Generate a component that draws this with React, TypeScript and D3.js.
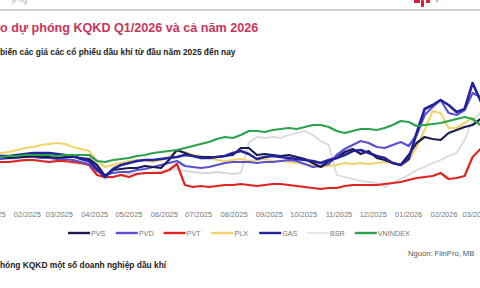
import React from "react";
import * as d3 from "d3";

const dates = [
  "2025-01-02","2025-01-09","2025-01-16","2025-01-23","2025-01-30",
  "2025-02-06","2025-02-13","2025-02-20","2025-02-27",
  "2025-03-06","2025-03-13","2025-03-20","2025-03-27",
  "2025-04-03","2025-04-10","2025-04-17","2025-04-24",
  "2025-05-01","2025-05-08","2025-05-15","2025-05-22","2025-05-29",
  "2025-06-05","2025-06-12","2025-06-19","2025-06-26",
  "2025-07-03","2025-07-10","2025-07-17","2025-07-24","2025-07-31",
  "2025-08-07","2025-08-14","2025-08-21","2025-08-28",
  "2025-09-04","2025-09-11","2025-09-18","2025-09-25",
  "2025-10-02","2025-10-09","2025-10-16","2025-10-23","2025-10-30",
  "2025-11-06","2025-11-13","2025-11-20","2025-11-27",
  "2025-12-04","2025-12-11","2025-12-18","2025-12-25",
  "2026-01-01","2026-01-08","2026-01-15","2026-01-22","2026-01-29",
  "2026-02-05","2026-02-12","2026-02-19","2026-02-26",
  "2026-03-05",
];

const PVS = [
  -2,-2,-3,-2,-2,-1,-2,-2,-3,-2,
  -2,-3,-4,-10,-21,-15,-14,-13,-13,-11,
  -12,-13,-5,5,2,-1,-2,-2,-2,-1,
  0,7,7,0,1,0,-1,0,-2,-4,
  -8,-12,-6,-3,3,6,1,4,-3,-5,
  -8,-10,0,12,18,16,15,22,25,28,
  30,36,
];
const PVD = [
  -4,-4,-3,-3,-2,-2,-3,-3,-4,-4,
  -5,-7,-9,-16,-20,-18,-17,-17,-15,-14,
  -12,-10,-8,-6,-11,-12,-13,-12,-10,-8,
  -7,-7,-7,-8,-7,-7,-6,-5,-6,-9,
  -12,-11,-9,0,6,10,14,12,8,7,
  10,13,9,20,40,48,55,42,40,45,
  62,58,
];
const PVT = [
  -7,-7,-7,-6,-5,-5,-6,-7,-6,-6,
  -7,-8,-10,-20,-22,-22,-20,-22,-19,-18,
  -18,-18,-15,-9,-30,-32,-31,-32,-31,-30,
  -30,-29,-30,-31,-30,-29,-29,-30,-31,-32,
  -33,-34,-33,-33,-31,-30,-30,-30,-30,-29,
  -28,-27,-25,-23,-22,-21,-18,-24,-23,-21,
  -2,6,
];
const PLX = [
  1,2,3,5,7,8,10,11,12,11,
  8,6,4,-6,-12,-10,-8,-6,-5,-5,
  -7,-5,-2,4,3,0,-1,-3,-5,-6,
  -5,-4,-6,-5,-4,-6,-6,-7,-8,-9,
  -10,-12,-11,-10,-8,-9,-8,-9,-8,-7,
  -8,-10,-6,8,25,44,42,27,27,32,
  37,30,
];
const GAS = [
  -1,-1,-1,0,1,2,2,2,1,0,
  -1,-4,-6,-14,-22,-14,-10,-8,-6,-5,
  -5,-4,-3,-2,0,-1,-3,-3,-2,-1,
  2,4,1,-4,-2,-1,-2,-3,-4,-5,
  -6,-8,-5,-3,0,4,5,2,-1,-3,
  -8,-10,-4,22,46,50,55,50,43,46,
  72,54,
];
const BSR = [
  -1,-3,-4,-5,-6,-5,-6,-7,-6,-7,
  -8,-9,-10,-20,-24,-22,-20,-19,-18,-19,
  -17,-16,-15,-14,-16,-17,-18,-18,-17,-18,
  -19,-18,12,18,17,18,17,20,22,24,
  20,14,10,-20,-22,-24,-26,-27,-28,-32,
  -28,-24,-20,-15,-12,-8,-5,-1,2,15,
  35,42,
];
const VNINDEX = [
  -2,-2,-1,-1,0,0,0,0,-1,0,
  0,0,0,-6,-7,-5,-4,-3,-1,0,
  2,3,4,5,7,9,11,13,16,18,
  17,20,24,24,23,25,26,27,26,28,
  30,30,28,24,22,24,26,26,25,27,
  30,34,33,29,30,31,32,34,36,38,
  36,30,
];

const seriesNames = ["PVS", "PVD", "PVT", "PLX", "GAS", "BSR", "VNINDEX"];
const seriesValues = [PVS, PVD, PVT, PLX, GAS, BSR, VNINDEX];
const seriesColors = ["#1b1b52", "#5a50d4", "#e0231f", "#f3d46c", "#23239c", "#d8d8e2", "#2ca24c"];
const seriesWidths = [2.2, 2.2, 2.2, 2.2, 2.6, 1.8, 2.2];
const drawOrder = [5, 3, 2, 1, 0, 4, 6];

const titleText = "o dự phóng KQKD Q1/2026 và cả năm 2026";
const subtitleText = "biến các giá các cổ phiếu dầu khí từ đầu năm 2025 đến nay";
const sourceText = "Nguồn: FiinPro, MB";
const footerText = "hóng KQKD một số doanh nghiệp dầu khí";

const W = 480;
const H = 288;
const FONT = "'Liberation Sans', Arial, sans-serif";

export default function App() {
  const parse = d3.timeParse("%Y-%m-%d");
  const xDates = dates.map((d) => parse(d) as Date);
  const x = d3
    .scaleTime()
    .domain([new Date(2025, 0, 1), new Date(2026, 2, 1)])
    .range([-8, 476]);
  const y = d3.scaleLinear().domain([-40, 80]).range([195, 75]);
  const ticks = x.ticks(d3.timeMonth.every(1) as any);
  const fmt = d3.timeFormat("%m/%Y");

  const line = (vals: number[]) =>
    d3
      .line<number>()
      .x((_, i) => x(xDates[i]))
      .y((v) => y(v))
      .curve(d3.curveLinear)(vals) || "";

  return (
    <svg
      width={W}
      height={H}
      viewBox={`0 0 ${W} ${H}`}
      style={{ position: "fixed", left: 0, top: 0, background: "#fff" }}
      fontFamily={FONT}
    >
      <rect x={0} y={0} width={W} height={H} fill="#fff" />
      <line x1={0} x2={W} y1={10} y2={10} stroke="#b9bfcc" strokeWidth={1.5} />
      <text x={12} y={2} fontSize={8} fill="#aaa">p           ng</text>
      <g fill="#d8203a">
        <rect x={414} y={0} width={6} height={3} />
        <rect x={421} y={0} width={3} height={7} rx={1} />
        <rect x={426} y={0} width={4} height={3} />
        <rect x={436} y={0} width={2} height={2} fill="#e8a0a8" />
      </g>

      <text x={0} y={32} fontSize={12.6} fontWeight="bold" fill="#c9355b">
        {titleText}
      </text>
      <text x={0} y={55} fontSize={8.4} fontWeight="bold" fill="#222">
        {subtitleText}
      </text>

      <g fill="none" strokeLinejoin="round" strokeLinecap="round">
        {drawOrder.map((k) => (
          <path
            key={seriesNames[k]}
            d={line(seriesValues[k])}
            stroke={seriesColors[k]}
            strokeWidth={seriesWidths[k]}
          />
        ))}
      </g>

      <g fontSize={7.5} fill="#777" textAnchor="middle">
        {ticks.map((t) => (
          <text key={t.toISOString()} x={x(t)} y={217}>
            {fmt(t)}
          </text>
        ))}
      </g>

      <g fontSize={7.2} fill="#777">
        {seriesNames.map((n, i) => {
          const lx = 68 + i * 47.8;
          return (
            <g key={n}>
              <line
                x1={lx}
                x2={lx + 22}
                y1={233}
                y2={233}
                stroke={seriesColors[i]}
                strokeWidth={i === 5 ? 1.2 : 2.4}
              />
              <text x={lx + 23} y={235.5}>
                {n}
              </text>
            </g>
          );
        })}
      </g>

      <text x={408} y={256} fontSize={7.6} fill="#555">
        {sourceText}
      </text>
      <text x={0} y={268} fontSize={8.4} fontWeight="bold" fill="#222">
        {footerText}
      </text>
    </svg>
  );
}
